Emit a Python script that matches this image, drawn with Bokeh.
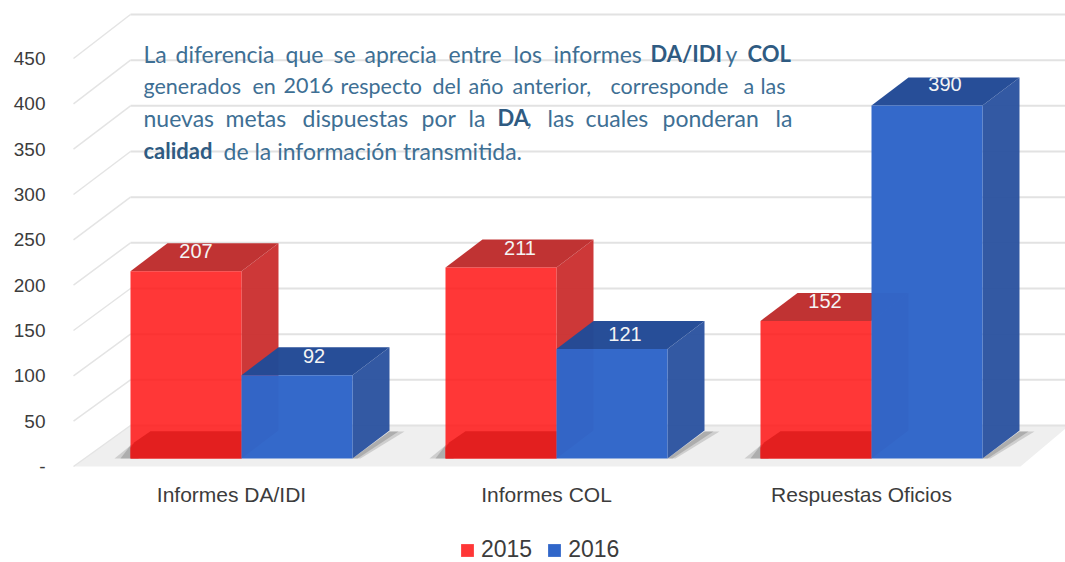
from bokeh.plotting import figure
from bokeh.layouts import column
from bokeh.models import Range1d, LinearAxis, FixedTicker, Legend, LegendItem
from bokeh.core.properties import value
from bokeh.embed import file_html
from bokeh.resources import INLINE

categories = ["Informes DA/IDI", "Informes COL", "Respuestas Oficios"]
v2015 = [207, 211, 152]
v2016 = [92, 121, 390]
ticks = [0, 50, 100, 150, 200, 250, 300, 350, 400, 450]
tick_labels = ["-", "50", "100", "150", "200", "250", "300", "350", "400", "450"]
series = ["2015", "2016"]

# screen geometry (page pixels)
FL, FR, FT, FB = 50, 1065, 0, 470
PXC, PXS = 231, 315          # x of category 0, px per category
PY0, PYS = 458, 0.905        # bar plane: y of value 0, px per value
H1 = 530                     # height of the chart part; the legend strip sits under it


def X(px):
    return (px - PXC) / PXS


def Y(py):
    return (PY0 - py) / PYS


p = figure(width=1065, height=H1, output_backend="svg", toolbar_location=None,
           x_range=Range1d(X(FL), X(FR)), y_range=Range1d(Y(FB), Y(FT)),
           x_axis_type=None, y_axis_type=None,
           min_border_left=FL, min_border_right=0, min_border_top=0, min_border_bottom=H1 - FB)
p.outline_line_color = None
p.background_fill_color = "white"

# value axis (drawn on the slightly lower front edge of the floor)
AX0, AXS = 466, 0.9067
p.extra_y_ranges = {"ticks": Range1d((AX0 - FB) / AXS, (AX0 - FT) / AXS)}
ya = LinearAxis(y_range_name="ticks", ticker=FixedTicker(ticks=ticks),
                major_label_overrides=dict(zip(ticks, tick_labels)),
                axis_line_color=None, major_tick_line_color=None, minor_tick_line_color=None,
                major_tick_out=0, major_tick_in=0,
                major_label_standoff=5, major_label_text_font="Liberation Sans",
                major_label_text_font_size="19px", major_label_text_color="#3c3c3c")
p.add_layout(ya, "left")
xa = LinearAxis(ticker=FixedTicker(ticks=list(range(len(categories)))),
                major_label_overrides=dict(enumerate(categories)),
                axis_line_color=None, major_tick_line_color=None, minor_tick_line_color=None,
                major_tick_out=0, major_tick_in=0,
                major_label_standoff=12, major_label_text_font="Liberation Sans",
                major_label_text_font_size="21px", major_label_text_color="#3c3c3c")
p.add_layout(xa, "below")

# floor
p.patch([X(73), X(130), X(1065), X(1065), X(1020)], [Y(466), Y(425), Y(425), Y(428), Y(466)],
        fill_color="#efefef", line_color=None)

# walls and gridlines
WALL0, WALLS = 425, 0.9133
for t in ticks:
    by = WALL0 - t * WALLS
    fy = AX0 - t * AXS
    p.line([X(73), X(130)], [Y(fy), Y(by)], line_color="#e4e4e4", line_width=1.5)
    p.line([X(130), X(1065)], [Y(by), Y(by)], line_color="#e2e2e2", line_width=2)

# 3D bars
BW, DX, DY = 111 / PXS, 37 / PXS, 28 / PYS
RED = dict(front="#ff1616", top="#bf2f2f", side="#cb3232", base="#e31f1f")
BLUE = dict(front="#3066c9", top="#234a96", side="#2c54a0", base="#2f62c2")


def shadow(x0, x1):
    for g, a, w in (("#808080", 0.3, 0), ("#707070", 0.35, 6)):
        p.patch([X(x0 - 16 + w), X(x0 + 8), X(x0 + 8), X(x0)],
                [Y(458), Y(458), Y(440), Y(445)], fill_color=g, fill_alpha=a, line_color=None)
        p.patch([X(x1), X(x1 + 37), X(x1 + 52 - w), X(x1 + 8 - w / 2)],
                [Y(458), Y(431), Y(431), Y(458)], fill_color=g, fill_alpha=a, line_color=None)


for i in range(len(categories)):
    c = i + 10 / PXS
    shadow(PXC + 10 - 111 + PXS * i, PXC + 10 + 111 + PXS * i)
    for x0, val, col, alpha, name in ((c - BW, v2015[i], RED, 0.86, "r"), (c, v2016[i], BLUE, 0.98, "b")):
        x1 = x0 + BW
        p.patch([x1, x1 + DX, x1 + DX, x1], [0, DY, val + DY, val], fill_color=col["side"],
                fill_alpha=0.97, line_color=None)
        p.patch([x0, x0 + DX, x1 + DX, x1], [val, val + DY, val + DY, val], fill_color=col["top"],
                fill_alpha=0.98, line_color=None)
        p.vbar(x=[x0 + BW / 2], width=BW, bottom=0, top=[val], fill_color=col["front"],
               fill_alpha=alpha, line_color=None)
        if name == "r":
            # darker floor contact band seen through the red face
            p.patch([x0, x0 + 4 / PXS, x0 + 20 / PXS, x1, x1, x0],
                    [12, 18, 30, 30, 0, 0], fill_color=col["base"], line_color=None)

# value labels on the top faces
label_dx = [[10, 17], [19, 13], [9, 18]]
label_dy = [[20, 19], [20, 15], [20, 22]]
lab_x, lab_y, lab_t = [], [], []
for i in range(len(categories)):
    c = i + 10 / PXS
    for j, (x0, val) in enumerate(((c - BW, v2015[i]), (c, v2016[i]))):
        lab_x.append(x0 + (55.5 + label_dx[i][j]) / PXS)
        lab_y.append(val + label_dy[i][j] / PYS)
        lab_t.append(str(val))
p.text(x=lab_x, y=lab_y, text=lab_t, text_color="#f4f4f4", text_align="center",
       text_baseline="middle", text_font=value("Liberation Sans"), text_font_size="20px")

# annotation: (start x, line y, text, style)
LINES = [
    (143, 53, "La", "r"), (175, 53, "diferencia", "r"), (285, 53, "que", "r"), (333, 53, "se", "r"),
    (364, 53, "aprecia", "r"), (448, 53, "entre", "r"), (513, 53, "los", "r"), (553, 53, "informes", "r"),
    (650, 53, "DA/IDI", "b"), (725, 53, "y", "r"), (747, 53, "COL", "b"),
    (143, 85, "generados", "n"), (252, 85, "en", "n"), (283, 85, "2016", "n"), (340, 85, "respecto", "n"),
    (432, 85, "del", "n"), (468, 85, "año", "n"), (512, 85, "anterior,", "n"), (610, 85, "corresponde", "n"),
    (743, 85, "a", "n"), (760, 85, "las", "n"),
    (143, 117, "nuevas", "r"), (225, 117, "metas", "r"), (302, 117, "dispuestas", "r"), (421, 117, "por", "r"),
    (468, 117, "la", "r"), (497, 117, "DA", "b"), (526, 117, ",", "r"), (547, 117, "las", "r"), (585, 117, "cuales", "r"),
    (662, 117, "ponderan", "r"), (775, 117, "la", "r"),
    (143, 150, "calidad", "b"), (223, 150, "de la información transmitida.", "r"),
]
STYLES = {"r": ("#3e6f94", "23px", "normal"), "n": ("#3e6f94", "21.5px", "normal"), "b": ("#2f5b82", "22px", "bold")}
for key, (color, size, weight) in STYLES.items():
    sel = [l for l in LINES if l[3] == key]
    p.text(x=[X(l[0]) for l in sel], y=[Y(l[1]) for l in sel], text=[l[2] for l in sel],
           text_color=color, text_align="left", text_baseline="middle",
           text_font=value("Lato"), text_font_size=size, text_font_style=weight)

# legend strip under the chart (zero-size keys: only the legend shows them)
q = figure(width=1065, height=562 - H1, output_backend="svg", toolbar_location=None,
           x_range=Range1d(0, 1), y_range=Range1d(0, 1), x_axis_type=None, y_axis_type=None,
           min_border=0)
q.outline_line_color = None
k1 = q.vbar(x=[0.5], width=0, bottom=[0], top=[0], fill_color=RED["front"], fill_alpha=0.86, line_color=None)
k2 = q.vbar(x=[0.5], width=0, bottom=[0], top=[0], fill_color=BLUE["front"], line_color=None)
legend = Legend(items=[LegendItem(label=series[0], renderers=[k1]),
                       LegendItem(label=series[1], renderers=[k2])],
                orientation="horizontal", location=(409, -1), border_line_color=None,
                background_fill_alpha=0, glyph_width=16, glyph_height=16, label_standoff=6,
                spacing=14, padding=0, margin=0, label_text_font="Liberation Sans",
                label_text_font_size="23px", label_text_color="#3c3c3c")
q.add_layout(legend)

open("out.html", "w").write(file_html(column(p, q, spacing=0), INLINE))
